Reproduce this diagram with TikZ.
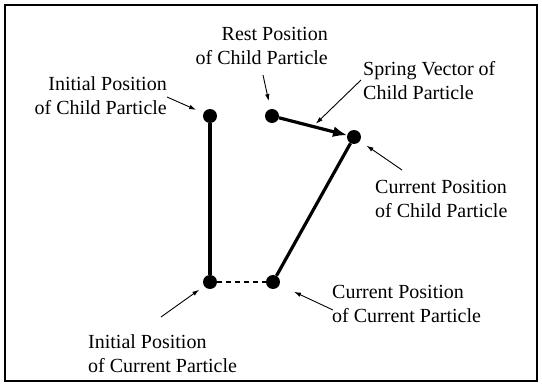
\documentclass[tikz,border=0pt]{standalone}
\usepackage{fontspec}
\setmainfont{Liberation Serif}
\usetikzlibrary{arrows.meta}

\tikzset{
	particle/.style={circle, fill=black, inner sep=0pt, minimum size=14pt},
	lbl/.style={inner sep=0pt, font=\fontsize{20}{24}\selectfont},
	pointer/.style={-{Latex[length=7pt, width=4.5pt]}, line width=0.9pt},
	link/.style={line width=3.2pt}
}

\begin{document}
\begin{tikzpicture}[x=1pt, y=-1pt]
	\useasboundingbox (0, 0) rectangle (542, 385);
	\draw[line width=1.5pt] (5, 5) rectangle (537, 381);
	% particles
	\node[particle](P1) at (210, 116){};
	\node[particle](P2) at (272, 116){};
	\node[particle](P3) at (354, 137){};
	\node[particle](P4) at (210, 282){};
	\node[particle](P5) at (273, 282){};
	% links
	\draw[link] (P1) -- (P4);
	\draw[link] (P5) -- (P3);
	\draw[link, dash pattern=on 5pt off 4pt, line width=2.6pt] (P4) -- (P5);
	\draw[link, -{Latex[length=14pt, width=11pt]}] (P2) -- coordinate[pos=0.5](S) (P3);
	% labels
	\node[lbl, anchor=east, align=right](L1) at (167, 96){Initial Position\\of Child Particle};
	\node[lbl, anchor=east, align=right](L2) at (328, 46){Rest Position\\of Child Particle};
	\node[lbl, anchor=west, align=left](L3) at (363, 81){Spring Vector of\\Child Particle};
	\node[lbl, anchor=west, align=left](L4) at (375, 199){Current Position\\of Child Particle};
	\node[lbl, anchor=west, align=left](L5) at (332, 304){Current Position\\of Current Particle};
	\node[lbl, anchor=west, align=left](L6) at (88, 354){Initial Position\\of Current Particle};
	% pointers
	\coordinate (T1) at (167, 97);
	\coordinate (T2) at (263, 75);
	\coordinate (T3) at (361, 80);
	\coordinate (T4) at (402, 170);
	\coordinate (T5) at (333, 310);
	\coordinate (T6) at (161, 317);
	\draw[pointer, shorten >=8pt] (T1) -- (P1);
	\draw[pointer, shorten >=8pt] (T2) -- (P2);
	\draw[pointer, shorten >=4pt] (T3) -- (S);
	\draw[pointer, shorten >=8pt] (T4) -- (P3);
	\draw[pointer, shorten >=16pt] (T5) -- (P5);
	\draw[pointer, shorten >=6pt] (T6) -- (P4);
\end{tikzpicture}
\end{document}
